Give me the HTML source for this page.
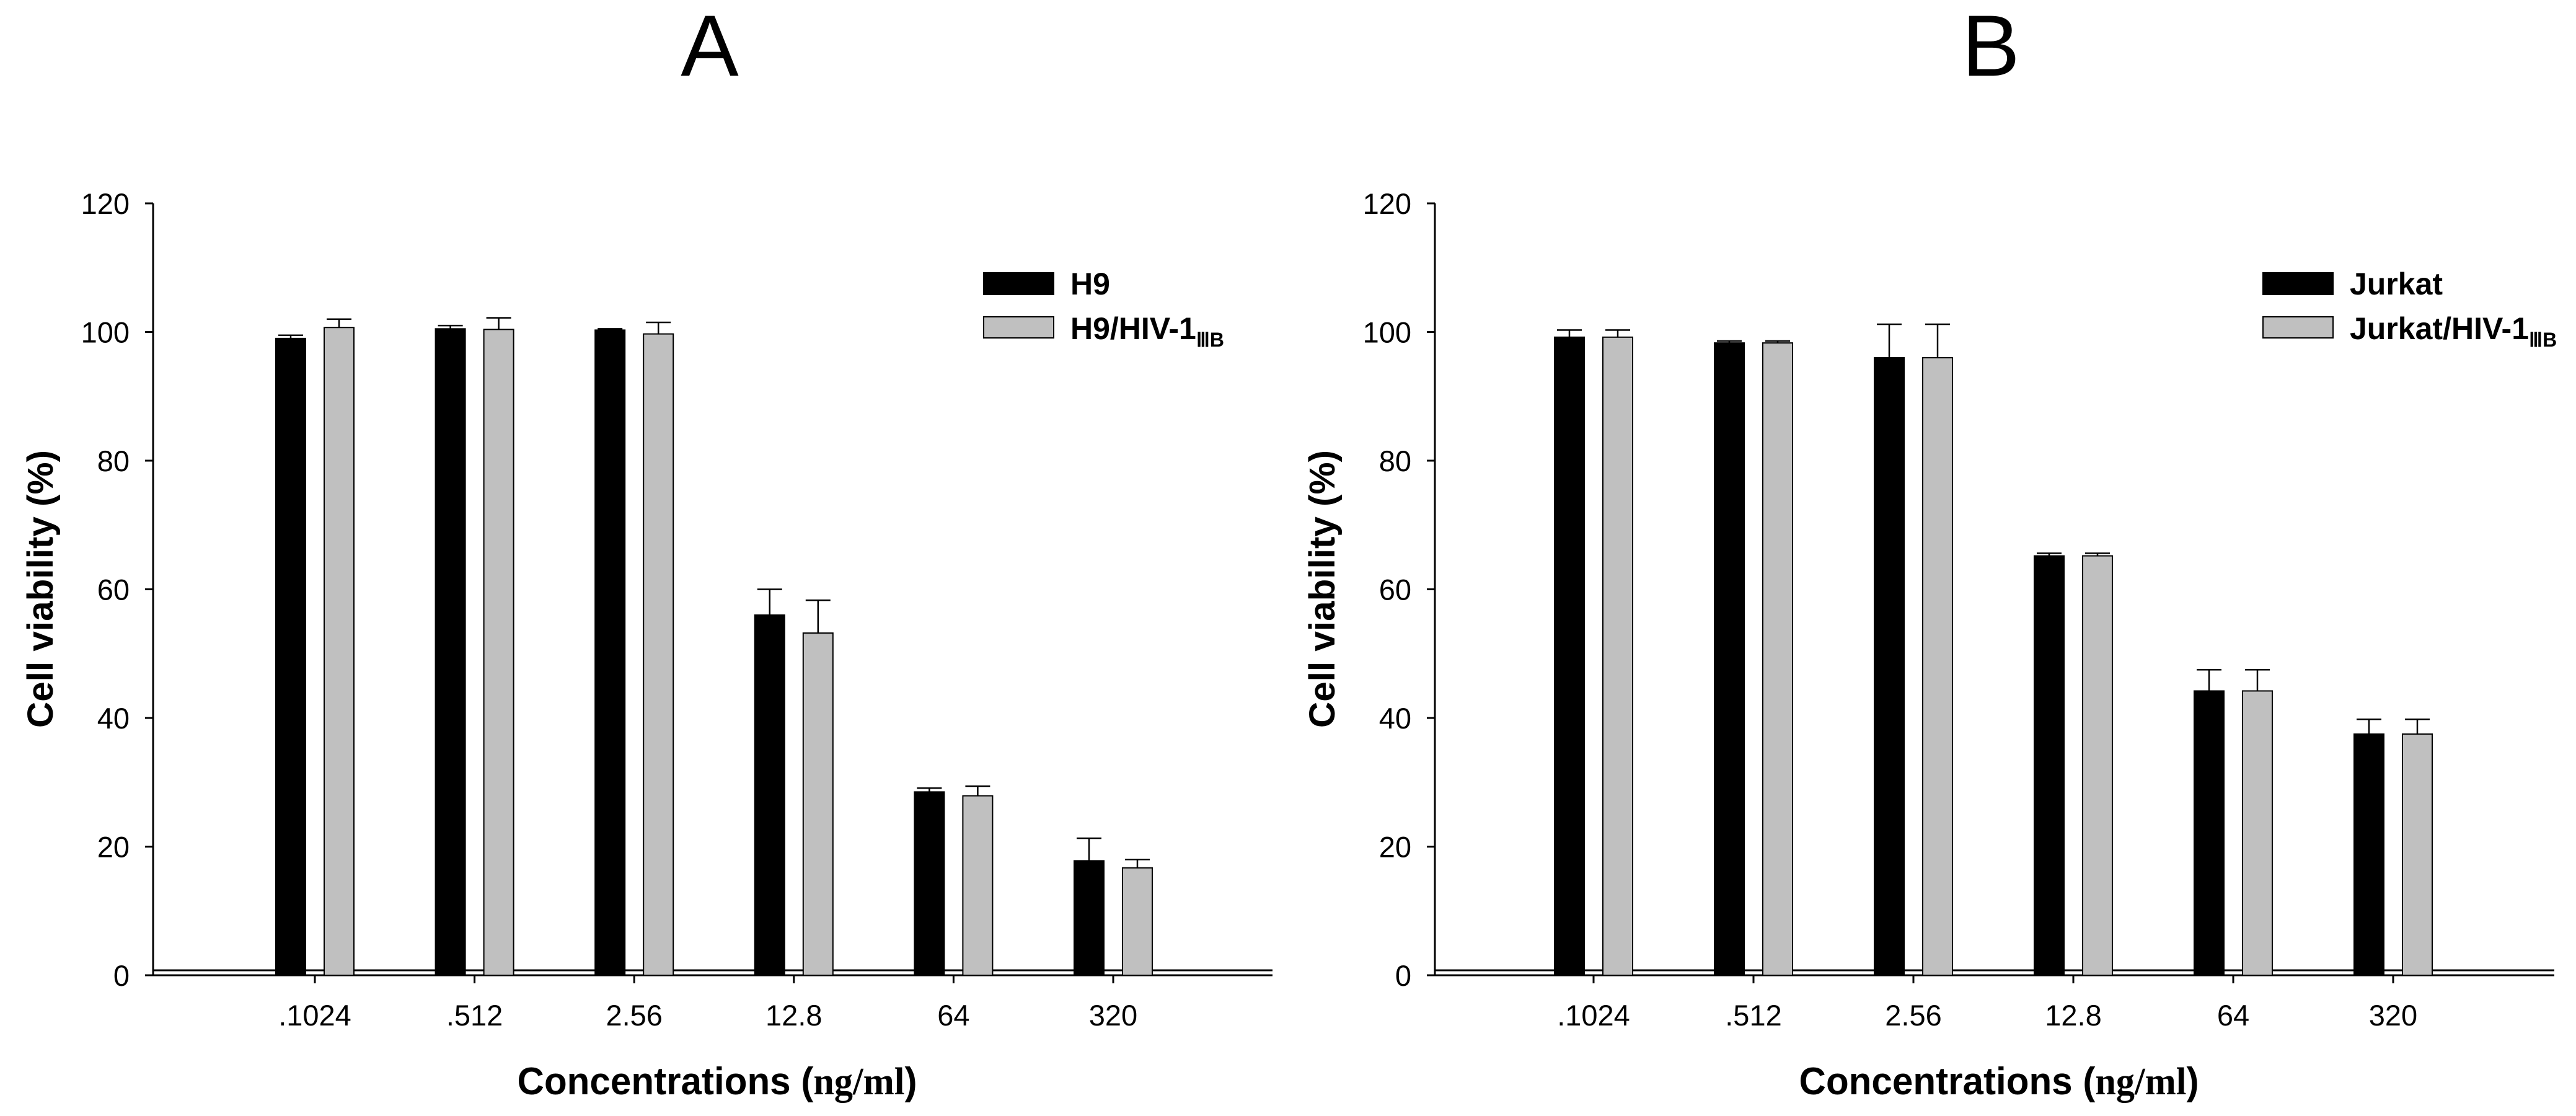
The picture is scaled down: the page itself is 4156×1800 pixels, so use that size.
<!DOCTYPE html>
<html><head><meta charset="utf-8"><style>
html,body{margin:0;padding:0;background:#fff;}
svg{display:block;}
text{font-family:"Liberation Sans",sans-serif;fill:#000;}
</style></head><body>
<svg id="chart" width="4156" height="1800" viewBox="0 0 4156 1800" xmlns="http://www.w3.org/2000/svg"></svg>
<script>
const categories = [".1024", ".512", "2.56", "12.8", "64", "320"];
const yTicks = [0, 20, 40, 60, 80, 100, 120];
const aSeries1 = [99, 100.5, 100.3, 56, 28.5, 17.8];
const aErr1 = [0.5, 0.5, 0.2, 4, 0.6, 3.5];
const aSeries2 = [100.7, 100.4, 99.7, 53.2, 27.9, 16.7];
const aErr2 = [1.3, 1.8, 1.8, 5.1, 1.5, 1.3];
const bSeries1 = [99.2, 98.3, 96, 65.2, 44.2, 37.5];
const bErr1 = [1.1, 0.3, 5.2, 0.4, 3.3, 2.3];
const bSeries2 = [99.2, 98.3, 96, 65.2, 44.2, 37.5];
const bErr2 = [1.1, 0.3, 5.2, 0.4, 3.3, 2.3];

const NS = "http://www.w3.org/2000/svg";
const svg = document.getElementById('chart');
function el(tag, attrs, parent) {
  const e = document.createElementNS(NS, tag);
  for (const k in attrs) e.setAttribute(k, attrs[k]);
  (parent || svg).appendChild(e);
  return e;
}
const Y0 = 1573, Y120 = 328;
function yScale(v) { return Y0 - (v / 120) * (Y0 - Y120); }

function panel(cfg) {
  const g = el('g', {});
  
  
  const ax = cfg.axisX, axEnd = cfg.axisEnd;
  function xScale(i) { return cfg.firstTick + i * cfg.step; }
  const t = el('text', {x: cfg.titleX, y: 122, 'font-size': 140, 'text-anchor': 'middle'}, g);
  t.textContent = cfg.title;
  
  
  const ya = el('line', {x1: ax, y1: Y120, x2: ax, y2: Y0, stroke: '#000', 'stroke-width': 3}, g);
  
  
  yTicks.forEach(v => {
    const y = yScale(v);
    el('line', {x1: ax - 13, y1: y, x2: ax, y2: y, stroke: '#000', 'stroke-width': 3}, g);
    const lab = el('text', {x: ax - 38, y: y + 17, 'font-size': 47, 'text-anchor': 'end'}, g);
    lab.textContent = v;
    
    
  });
  const xa = el('line', {x1: ax, y1: Y0, x2: axEnd, y2: Y0, stroke: '#000', 'stroke-width': 3}, g);
  
  
  el('line', {x1: ax, y1: Y0 - 8, x2: axEnd, y2: Y0 - 8, stroke: '#000', 'stroke-width': 3}, g);
  const series = [[cfg.s1, cfg.e1, '#000', -39], [cfg.s2, cfg.e2, '#c0c0c0', 39]];
  categories.forEach((c, i) => {
    const cx = xScale(i);
    el('line', {x1: cx, y1: Y0, x2: cx, y2: Y0 + 13, stroke: '#000', 'stroke-width': 3}, g);
    const lab = el('text', {x: cx, y: 1654, 'font-size': 47, 'text-anchor': 'middle'}, g);
    lab.textContent = c;
    
    
    series.forEach((s, si) => {
      const v = s[0][i], err = s[1][i];
      const bx = cx + s[3];
      const yt = yScale(v), ye = yScale(v + err);
      const eb = el('line', {x1: bx, y1: yt, x2: bx, y2: ye, stroke: '#000', 'stroke-width': 2.5}, g);
      
      
      el('line', {x1: bx - 20, y1: ye, x2: bx + 20, y2: ye, stroke: '#000', 'stroke-width': 2.5}, g);
      const r = el('rect', {x: bx - 24, y: yt, width: 48, height: Y0 - yt, fill: s[2], stroke: '#000', 'stroke-width': 2}, g);
      
      
    });
  });
  const yl = el('text', {x: 0, y: 0, 'font-size': 58, 'font-weight': 'bold', 'text-anchor': 'middle',
    transform: 'translate(' + (ax - 162) + ',950) rotate(-90)', textLength: 448, lengthAdjust: 'spacingAndGlyphs'}, g);
  yl.textContent = 'Cell viability (%)';
  
  
  const xl = el('text', {x: cfg.xTitleX, y: 1765, 'font-size': 62, 'font-weight': 'bold', 'text-anchor': 'middle',
    textLength: 645, lengthAdjust: 'spacingAndGlyphs'}, g);
  
  
  xl.appendChild(document.createTextNode('Concentrations ('));
  const sp = el('tspan', {'font-family': '"Liberation Serif", serif'}, xl);
  sp.textContent = 'ng/ml';
  xl.appendChild(document.createTextNode(')'));
  const lg = el('g', {}, g);
  
  
  const lb1 = el('rect', {x: cfg.legX, y: 440, width: 113, height: 35, fill: '#000', stroke: '#000', 'stroke-width': 2}, lg);
  
  
  const lt1 = el('text', {x: cfg.legX + 140, y: 475, 'font-size': 50, 'font-weight': 'bold'}, lg);
  lt1.textContent = cfg.l1;
  
  
  const lb2 = el('rect', {x: cfg.legX, y: 511, width: 113, height: 34, fill: '#c0c0c0', stroke: '#000', 'stroke-width': 2}, lg);
  
  
  const lt2 = el('text', {x: cfg.legX + 140, y: 547, 'font-size': 50, 'font-weight': 'bold'}, lg);
  
  
  lt2.appendChild(document.createTextNode(cfg.l2));
  const sub = el('tspan', {'font-size': 32, dy: 12}, lt2);
  sub.textContent = 'ⅢB';
}

panel({name: 'panel-a', title: 'A', titleX: 1145, axisX: 247, axisEnd: 2053, firstTick: 508, step: 257.6,
  s1: aSeries1, e1: aErr1, s2: aSeries2, e2: aErr2, xTitleX: 1157, legX: 1587, l1: 'H9', l2: 'H9/HIV-1'});
panel({name: 'panel-b', title: 'B', titleX: 3212, axisX: 2315, axisEnd: 4121, firstTick: 2571, step: 258,
  s1: bSeries1, e1: bErr1, s2: bSeries2, e2: bErr2, xTitleX: 3225, legX: 3651, l1: 'Jurkat', l2: 'Jurkat/HIV-1'});
</script>
</body></html>
